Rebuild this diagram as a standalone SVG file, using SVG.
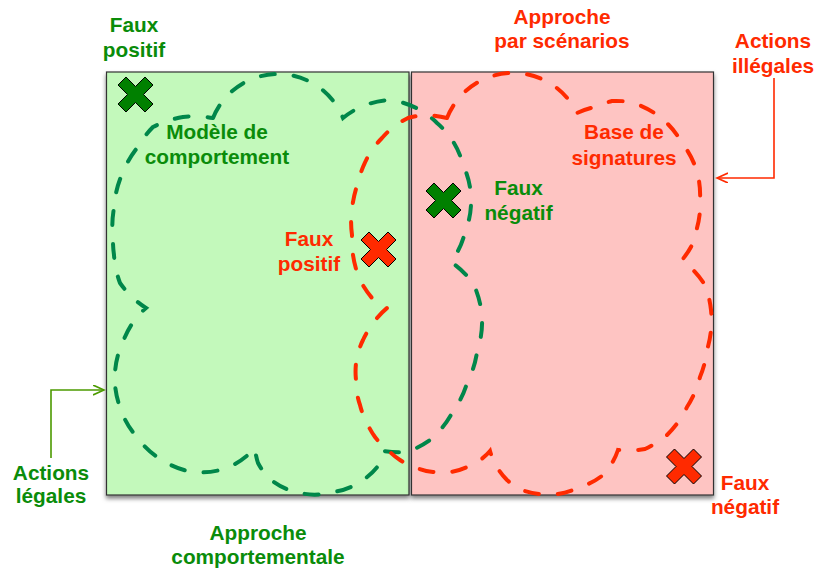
<svg xmlns="http://www.w3.org/2000/svg" xmlns:xlink="http://www.w3.org/1999/xlink" width="817" height="572" viewBox="0 0 817 572">
<style>
text{font-family:"Liberation Sans",Arial,Helvetica,sans-serif;font-weight:bold;font-size:20.8px;text-anchor:middle}
.tg{fill:#0a8c0a}
.tr{fill:#ff2a00}
.zone{stroke:#333;stroke-width:1.2}
.cloud{fill:none;stroke-width:4;stroke-linecap:round;stroke-dasharray:14 19}
.xm{stroke:#000;stroke-width:1}
</style>
<defs>
<filter id="sh" x="-10%" y="-10%" width="120%" height="120%">
<feDropShadow dx="0" dy="3" stdDeviation="2" flood-color="#000" flood-opacity="0.5"/>
</filter>
<polygon id="xmark" points="-17.5,-9.5 -9.5,-17.5 0,-8 9.5,-17.5 17.5,-9.5 8,0 17.5,9.5 9.5,17.5 0,8 -9.5,17.5 -17.5,9.5 -8,0"/>
<marker id="ag" markerUnits="userSpaceOnUse" markerWidth="14" markerHeight="12" refX="11" refY="5" orient="auto">
<path d="M0,0 L11,5 L0,10" fill="none" stroke="#4c9a00" stroke-width="1.6"/>
</marker>
<marker id="ar" markerUnits="userSpaceOnUse" markerWidth="14" markerHeight="12" refX="11" refY="5" orient="auto">
<path d="M0,0 L11,5 L0,10" fill="none" stroke="#ff2a00" stroke-width="1.6"/>
</marker>
</defs>
<rect width="817" height="572" fill="#fff"/>
<g id="zone-legales">
<rect class="zone" x="106.5" y="72" width="302.5" height="423" fill="#c3f9bb" filter="url(#sh)"/>
</g>
<g id="zone-illegales">
<rect class="zone" x="411.5" y="72" width="302" height="423" fill="#fec4c2" filter="url(#sh)"/>
</g>
<g id="cloud-comportement">
<path class="cloud" stroke="#00874a" d="M213,118 A70,70 0 0 1 343,118 A80,80 0 0 1 390,100 A80,80 0 0 1 437,123 A80,80 0 0 1 463,165 A80,80 0 0 1 471,198 A80,80 0 0 1 465,232 A80,80 0 0 1 451,262 A95,95 0 0 1 473,283 A95,95 0 0 1 482,317 A95,95 0 0 1 477,352 A95,95 0 0 1 467,383 A95,95 0 0 1 452,413 A95,95 0 0 1 430,440 A95,95 0 0 1 407,452 A95,95 0 0 1 384,451 A65,65 0 0 1 378,466 A65,65 0 0 1 363,480 A65,65 0 0 1 333,492 A65,65 0 0 1 300,493 A65,65 0 0 1 270,479 A65,65 0 0 1 258,463 A65,65 0 0 1 255,448 A80,80 0 0 1 227,468 A80,80 0 0 1 193,472 A80,80 0 0 1 162,460 A80,80 0 0 1 137,437 A80,80 0 0 1 120,407 A80,80 0 0 1 115,373 A80,80 0 0 1 123,342 A80,80 0 0 1 146,308 A100,100 0 0 1 133,298 A100,100 0 0 1 120,283 A100,100 0 0 1 114,255 A100,100 0 0 1 113,238 A100,100 0 0 1 114,208 A100,100 0 0 1 123,172 A100,100 0 0 1 137,148 A100,100 0 0 1 153,127 A100,100 0 0 1 183,117 A100,100 0 0 1 213,118"/>
</g>
<g id="cloud-signatures">
<path class="cloud" stroke="#ff2a00" d="M447,118 A71,71 0 0 1 577,113 A85,85 0 0 1 595,107 A85,85 0 0 1 612,101 A85,85 0 0 1 630,102 A85,85 0 0 1 660,117 A85,85 0 0 1 682,143 A85,85 0 0 1 697,172 A85,85 0 0 1 700,200 A85,85 0 0 1 697,228 A85,85 0 0 1 692,245 A85,85 0 0 1 682,260 A100,100 0 0 1 705,285 A100,100 0 0 1 711,310 A100,100 0 0 1 711,330 A100,100 0 0 1 707,350 A100,100 0 0 1 700,377 A100,100 0 0 1 687,407 A100,100 0 0 1 667,435 A100,100 0 0 1 645,449 A100,100 0 0 1 618,450 A60,60 0 0 1 612,463 A60,60 0 0 1 603,475 A60,60 0 0 1 588,484 A60,60 0 0 1 573,490 A60,60 0 0 1 557,494 A60,60 0 0 1 540,494 A60,60 0 0 1 522,490 A60,60 0 0 1 507,480 A60,60 0 0 1 497,467 A60,60 0 0 1 490,451 A55,55 0 0 1 467,467 A55,55 0 0 1 450,472 A55,55 0 0 1 433,472 A55,55 0 0 1 417,468 A55,55 0 0 1 400,460 A55,55 0 0 1 390,452 A75,75 0 0 1 375,437 A75,75 0 0 1 367,423 A75,75 0 0 1 360,405 A75,75 0 0 1 356,380 A75,75 0 0 1 357,357 A75,75 0 0 1 363,340 A75,75 0 0 1 372,325 A75,75 0 0 1 387,308 A100,100 0 0 1 372,298 A100,100 0 0 1 360,280 A100,100 0 0 1 353,255 A100,100 0 0 1 352,235 A100,100 0 0 1 353,202 A100,100 0 0 1 358,183 A100,100 0 0 1 363,167 A100,100 0 0 1 370,153 A100,100 0 0 1 382,138 A100,100 0 0 1 392,128 A100,100 0 0 1 408,118 A100,100 0 0 1 425,115 A100,100 0 0 1 447,118"/>
</g>
<g id="x-faux-positif-vert">
<use xlink:href="#xmark" href="#xmark" x="135.5" y="94.5" class="xm" fill="#008000"/>
</g>
<g id="x-faux-negatif-vert">
<use xlink:href="#xmark" href="#xmark" x="443.5" y="200.5" class="xm" fill="#008000"/>
</g>
<g id="x-faux-positif-rouge">
<use xlink:href="#xmark" href="#xmark" x="378.5" y="249.5" class="xm" fill="#ff2a00"/>
</g>
<g id="x-faux-negatif-rouge">
<use xlink:href="#xmark" href="#xmark" x="684" y="466.5" class="xm" fill="#ff2a00"/>
</g>
<g id="label-modele">
<text class="tg" x="217" y="139">Modèle de</text>
<text class="tg" x="217" y="164">comportement</text>
</g>
<g id="label-base">
<text class="tr" x="624" y="139">Base de</text>
<text class="tr" x="624" y="165">signatures</text>
</g>
<g id="label-faux-positif-rouge">
<text class="tr" x="309" y="246">Faux</text>
<text class="tr" x="309" y="271">positif</text>
</g>
<g id="label-faux-negatif-vert">
<text class="tg" x="518.5" y="195">Faux</text>
<text class="tg" x="518.5" y="220">négatif</text>
</g>
<g id="label-faux-positif-vert">
<text class="tg" x="134" y="32">Faux</text>
<text class="tg" x="134" y="57">positif</text>
</g>
<g id="label-approche-scenarios">
<text class="tr" x="562" y="24">Approche</text>
<text class="tr" x="562" y="48">par scénarios</text>
</g>
<g id="label-actions-illegales">
<text class="tr" x="773" y="48">Actions</text>
<text class="tr" x="773" y="73">illégales</text>
</g>
<g id="label-actions-legales">
<text class="tg" x="51" y="480">Actions</text>
<text class="tg" x="51" y="503">légales</text>
</g>
<g id="label-approche-comportementale">
<text class="tg" x="258" y="540">Approche</text>
<text class="tg" x="258" y="564">comportementale</text>
</g>
<g id="label-faux-negatif-rouge">
<text class="tr" x="745" y="490">Faux</text>
<text class="tr" x="745" y="514">négatif</text>
</g>
<g id="connectors">
<path d="M51,458 V390 H104" fill="none" stroke="#4c9a00" stroke-width="1.6" marker-end="url(#ag)"/>
<path d="M774,78 V178 H717" fill="none" stroke="#ff2a00" stroke-width="1.6" marker-end="url(#ar)"/>
</g>
</svg>
